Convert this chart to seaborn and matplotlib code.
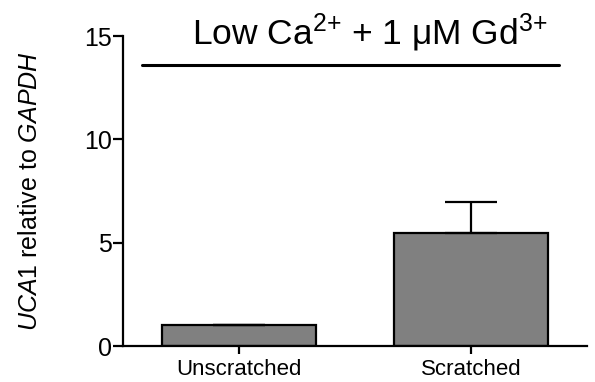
import numpy as np
import matplotlib
matplotlib.use('Agg')
import matplotlib.pyplot as plt
import seaborn as sns
import pandas as pd

# dados
categories = ['Unscratched', 'Scratched']
means = [1.0, 5.48]
sem = [0.0, 1.5]
yticks = [0, 5, 10, 15]
title_text = r'Low Ca$^{\mathrm{2{+}}}$ + 1 $\mathrm{\mu}$M Gd$^{\mathrm{3{+}}}$'
ylabel_text = r'$\mathit{UCA1}$ relative to $\mathit{GAPDH}$'

sns.set_style('ticks')
plt.rcParams['font.family'] = ['Liberation Sans', 'DejaVu Sans']
plt.rcParams['mathtext.fontset'] = 'custom'
plt.rcParams['mathtext.rm'] = 'Liberation Sans'
plt.rcParams['mathtext.it'] = 'Liberation Sans:italic'
plt.rcParams['axes.edgecolor'] = 'black'
plt.rcParams['text.color'] = 'black'
plt.rcParams['axes.labelcolor'] = 'black'
plt.rcParams['xtick.color'] = 'black'
plt.rcParams['ytick.color'] = 'black'

df = pd.DataFrame({'group': categories, 'value': means})

fig = plt.figure(figsize=(5.95, 3.82), dpi=100)
ax = fig.add_axes([0.2067, 0.0942, 0.7799, 0.8115])

sns.barplot(data=df, x='group', y='value', color='#808080', edgecolor='black',
            linewidth=1.6, width=0.667, saturation=1, errorbar=None, ax=ax)

# barras de erro (só para cima)
x = np.arange(len(categories))
ax.errorbar(x, means, yerr=[np.zeros(len(sem)), sem], fmt='none', ecolor='black',
            elinewidth=1.6, capsize=19, capthick=1.6, zorder=1)

# linha horizontal do título
ax.plot([-0.42, 1.38], [13.6, 13.6], color='black', lw=2.2, clip_on=False)
ax.text(0.565, 14.6, title_text, ha='center', va='baseline', fontsize=25.5, clip_on=False)

ax.set_xlim(-0.5, 1.5)
ax.set_ylim(0, 15)
ax.set_yticks(yticks)
ax.set_xlabel('')
ax.set_ylabel(ylabel_text, fontsize=18, labelpad=30)
ax.tick_params(axis='y', labelsize=18, width=1.6, length=7, pad=1)
ax.tick_params(axis='x', labelsize=16, width=1.6, length=6, pad=3)
sns.despine(ax=ax)
for s in ['left', 'bottom']:
    ax.spines[s].set_linewidth(1.6)

fig.savefig('out.png', dpi=100)
